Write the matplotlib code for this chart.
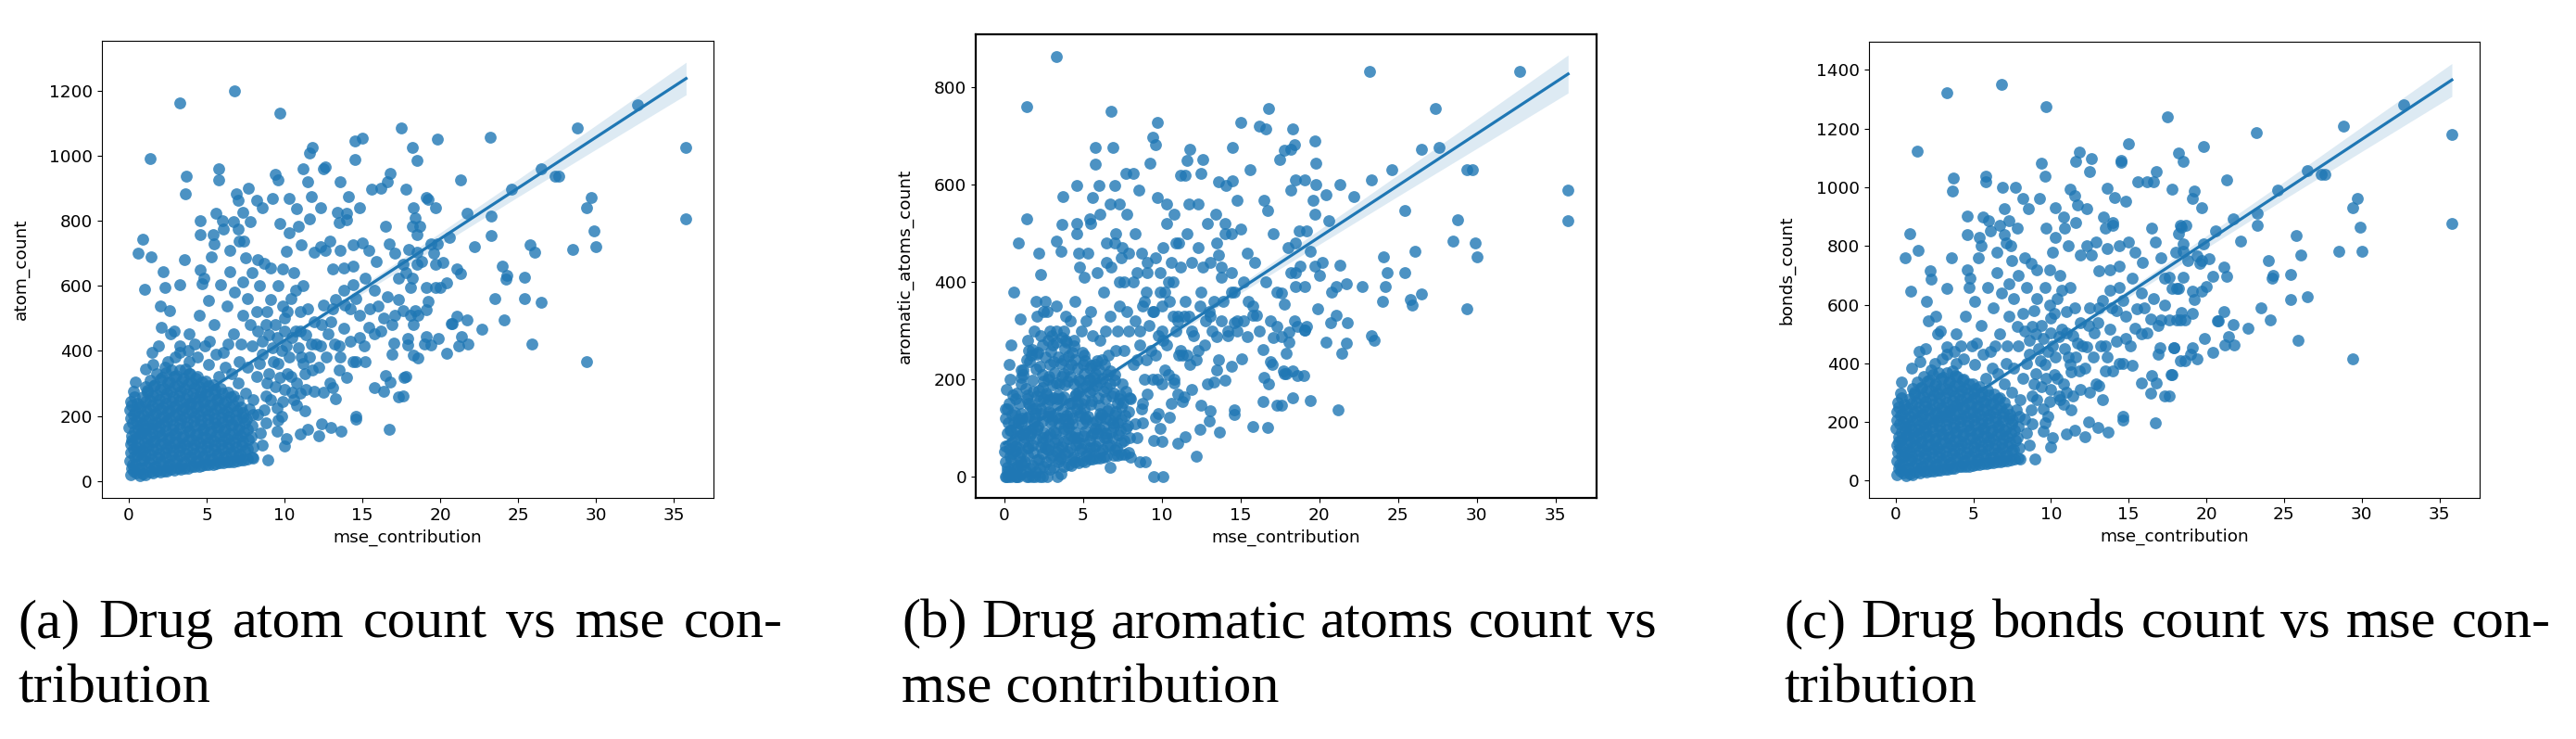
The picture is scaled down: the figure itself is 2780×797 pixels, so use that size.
import numpy as np
import matplotlib
matplotlib.use("Agg")
import matplotlib.pyplot as plt

# values; one row per drug, same order in every list
mse_contribution = [
    # far right
    35.8, 35.8, 32.7, 28.8, 29.4, 29.7, 29.9, 30.0, 28.5, 29.4,
    26.5, 27.4, 27.6, 25.8, 26.1, 25.4, 25.4, 26.5, 25.9, 24.6,
    23.2, 23.3, 23.3, 23.5, 24.0, 24.3, 24.2, 24.1, 22.7, 22.2,
    # 17 - 22
    21.7, 21.3, 21.1, 21.3, 21.4, 21.2, 21.8, 21.7, 20.7, 20.8,
    21.1, 20.6, 20.4, 20.4, 20.2, 20.0, 19.7, 19.8, 19.9, 19.8,
    19.6, 19.4, 19.7, 19.7, 19.1, 19.2, 18.3, 18.4, 18.2, 18.7,
    18.5, 18.5, 18.2, 17.5, 17.8, 18.5, 18.8, 18.5, 17.6, 17.8,
    18.2, 18.1, 19.1, 19.2, 19.1, 18.4, 18.1, 18.6, 18.3, 17.6,
    17.9, 17.9, 19.1, 19.0, 19.4, 18.3, 18.6, 17.8, 17.6, 17.7,
    17.3,
    # 12 - 17
    15.0, 14.5, 14.5, 16.8, 16.6, 16.2, 15.6, 14.1, 14.8, 13.6,
    12.6, 12.5, 12.3, 13.4, 14.0, 14.0, 13.5, 16.5, 12.3, 12.9,
    13.6, 14.4, 15.0, 15.4, 15.9, 16.7, 17.1, 18.0, 14.4, 12.6,
    13.1, 13.8, 14.4, 13.8, 13.3, 13.1, 14.2, 14.8, 15.4, 15.8,
    15.1, 14.4, 13.5, 12.8, 12.3, 16.6, 17.3, 17.1, 17.0, 16.9,
    17.3, 15.2, 15.8, 16.0, 16.4, 14.6, 14.6, 16.7, 13.65, 12.2,
    12.4, 13.0, 13.3, 15.8, 16.4, 16.5, 16.8, 14.6, 15.2, 14.0,
    13.1, 12.5, 11.9, 11.4,
    # 8 - 12
    9.7, 11.8, 11.6, 11.2, 9.4, 9.6, 11.5, 9.25, 8.2, 8.55,
    10.3, 10.8, 11.7, 11.6, 10.9, 9.7, 10.1, 10.3, 11.1, 11.9,
    9.9, 8.7, 8.3, 9.1, 11.9, 11.5, 10.7, 9.9, 9.1, 10.7,
    10.1, 9.3, 9.7, 11.5, 11.0, 10.1, 10.0, 9.5, 8.45, 8.6,
    8.95, 8.0, 8.3, 9.6, 11.3, 10.8, 9.9, 10.5, 8.8, 9.5,
    8.4, 8.9, 9.4, 10.0, 10.4, 11.0, 11.2, 10.6, 9.6, 8.6,
    9.0, 8.2, 10.2, 11.1, 11.7, 9.8, 8.4, 8.9, 11.3, 10.5,
    # 3 - 8, upper cloud
    6.8, 5.8, 5.8, 6.9, 7.7, 7.0, 4.6, 5.6, 6.0, 6.7,
    7.3, 7.8, 4.6, 5.4, 5.5, 6.1, 7.0, 7.1, 7.4, 6.5,
    5.3, 4.6, 4.7, 7.5, 4.8, 5.9, 6.5, 7.3, 5.1, 6.3,
    7.3, 4.5, 5.5, 6.7, 3.9, 4.9, 6.1, 3.3, 2.9, 3.9,
    5.1, 7.1, 7.9, 8.3, 7.6, 6.8, 7.9,
    # 0 - 4, upper
    3.3, 1.4, 3.7, 3.65, 0.9, 0.6, 1.45, 3.6, 2.2, 1.0,
    2.3, 3.3, 2.0, 2.6, 0.4, 1.05, 1.55, 1.9, 1.5, 2.1,
    2.7, 2.5, 3.3,
    # dense block near the origin
    0.1, 0.2, 0.05, 0.15, 0.1, 0.2, 0.0, 0.1, 0.05, 0.15,
    0.5, 0.45, 0.55, 0.5, 0.4, 0.6, 0.5, 0.45, 0.55, 0.3,
    0.9, 0.85, 0.95, 0.9, 1.0, 0.85, 0.9, 0.95, 0.8, 0.9, 1.1,
    1.35, 1.3, 1.4, 1.25, 1.35, 1.45, 1.3, 1.4, 1.35, 1.2, 1.4,
    1.8, 1.75, 1.85, 1.8, 1.7, 1.9, 1.8, 1.75, 1.85, 1.8, 1.7, 1.8,
    2.25, 2.2, 2.3, 2.25, 2.15, 2.35, 2.25, 2.2, 2.3, 2.25, 2.15, 2.3,
    2.7, 2.65, 2.75, 2.7, 2.6, 2.8, 2.7, 2.65, 2.75, 2.7, 2.6, 2.75,
    3.15, 3.1, 3.2, 3.15, 3.05, 3.25, 3.15, 3.1, 3.2, 3.15, 3.05,
    3.6, 3.55, 3.65, 3.6, 3.5, 3.7, 3.6, 3.55, 3.65, 3.6, 3.5, 3.65,
    4.05, 4.0, 4.1, 4.05, 3.95, 4.15, 4.05, 4.0, 4.1, 4.05, 3.95,
    4.5, 4.45, 4.55, 4.5, 4.4, 4.6, 4.5, 4.45, 4.55, 4.5, 4.4,
    4.95, 4.9, 5.0, 4.95, 4.85, 5.05, 4.95, 4.9, 5.0, 4.95,
    5.4, 5.35, 5.45, 5.4, 5.3, 5.5, 5.4, 5.35, 5.45, 5.4,
    5.85, 5.8, 5.9, 5.85, 5.75, 5.95, 5.85, 5.8, 5.9,
    6.3, 6.25, 6.35, 6.3, 6.2, 6.4, 6.3, 6.25, 6.35,
    6.75, 6.7, 6.8, 6.75, 6.65, 6.85, 6.75, 6.7,
    7.2, 7.15, 7.25, 7.2, 7.1, 7.3, 7.2,
    7.65, 7.6, 7.7, 7.65, 7.55, 7.75,
    0.3, 0.25, 0.35, 0.3, 0.2, 0.35, 0.25, 0.3, 0.2, 0.35,
    0.7, 0.65, 0.75, 0.7, 0.65, 0.75, 0.7, 0.65, 0.7,
    1.1, 1.15, 1.05, 1.1, 1.15, 1.05, 1.1, 1.15, 1.05, 1.2,
    1.55, 1.6, 1.5, 1.55, 1.6, 1.5, 1.55, 1.6, 1.5, 1.55, 1.6,
    2.0, 2.05, 1.95, 2.0, 2.05, 1.95, 2.0, 2.05, 1.95, 2.0, 2.05,
    2.45, 2.5, 2.4, 2.45, 2.5, 2.4, 2.45, 2.5, 2.4, 2.45, 2.5, 2.4,
    2.9, 2.95, 2.85, 2.9, 2.95, 2.85, 2.9, 2.95, 2.85, 2.9, 2.95,
    3.35, 3.4, 3.3, 3.35, 3.4, 3.3, 3.35, 3.4, 3.3, 3.35, 3.4, 3.3,
    3.8, 3.85, 3.75, 3.8, 3.85, 3.75, 3.8, 3.85, 3.75, 3.8, 3.85,
    4.25, 4.3, 4.2, 4.25, 4.3, 4.2, 4.25, 4.3, 4.2, 4.25, 4.3,
    4.7, 4.75, 4.65, 4.7, 4.75, 4.65, 4.7, 4.75, 4.65, 4.7,
    5.15, 5.2, 5.1, 5.15, 5.2, 5.1, 5.15, 5.2, 5.1, 5.15,
    5.6, 5.65, 5.55, 5.6, 5.65, 5.55, 5.6, 5.65, 5.55,
    6.05, 6.1, 6.0, 6.05, 6.1, 6.0, 6.05, 6.1, 6.0,
    6.5, 6.55, 6.45, 6.5, 6.55, 6.45, 6.5, 6.55,
    6.95, 7.0, 6.9, 6.95, 7.0, 6.9, 6.95, 7.0,
    7.4, 7.45, 7.35, 7.4, 7.45, 7.35,
    7.9, 7.95, 7.85, 7.9, 7.95,
    # diagonal band between the block and the cloud
    7.0, 7.5, 8.0, 8.2, 7.6, 7.2, 8.6, 6.6, 6.2, 5.6,
    5.8, 4.4, 4.2, 3.0, 3.8, 8.7, 9.1, 9.4, 9.0, 9.6,
    9.2, 8.8, 9.8, 10.0, 10.3, 9.5, 10.0, 10.4, 10.8, 11.2,
    11.6, 10.9, 11.4, 12.0, 11.8, 10.6, 11.0, 12.2, 12.7, 13.2,
    13.6, 12.4, 13.0, 13.8, 12.9, 13.5, 14.2, 14.8, 15.5, 16.2,
    14.6, 16.9, 6.4, 5.2, 7.8, 8.8, 10.2, 11.0, 12.5, 13.9,
]

atom_count = [
    1024, 805, 1155, 1085, 840, 870, 768, 720, 713, 368,
    960, 936, 936, 726, 704, 625, 560, 550, 421, 898,
    1057, 815, 754, 560, 659, 632, 621, 495, 468, 720,
    824, 925, 651, 637, 444, 414, 421, 495, 485, 485,
    507, 750, 609, 392, 672, 594, 596, 1050, 438, 729,
    699, 729, 666, 840, 870, 865, 840, 810, 783, 783,
    756, 986, 1024, 1085, 896, 704, 675, 666, 666, 640,
    623, 596, 596, 552, 526, 523, 509, 509, 480, 523,
    438, 419, 443, 421, 419, 386, 378, 321, 262, 319,
    260,
    1055, 1044, 989, 945, 919, 900, 898, 874, 840, 919,
    965, 960, 841, 826, 822, 803, 794, 784, 720, 737,
    708, 727, 732, 708, 675, 729, 699, 713, 661, 708,
    651, 656, 604, 585, 557, 528, 528, 509, 471, 452,
    414, 367, 414, 452, 414, 566, 557, 509, 424, 390,
    623, 623, 585, 538, 500, 200, 191, 160, 153, 139,
    177, 165, 253, 286, 276, 324, 305, 367, 367, 319,
    288, 272, 276, 281,
    1131, 1025, 1008, 960, 943, 925, 920, 868, 864, 841,
    868, 838, 875, 805, 784, 791, 706, 763, 727, 704,
    651, 670, 680, 656, 490, 528, 585, 538, 557, 462,
    414, 367, 319, 158, 145, 131, 108, 153, 148, 110,
    66, 70, 205, 186, 215, 234, 243, 272, 262, 224,
    600, 520, 480, 500, 560, 520, 600, 640, 600, 430,
    450, 520, 330, 380, 420, 400, 360, 300, 330, 440,
    1200, 960, 924, 884, 900, 863, 800, 824, 800, 798,
    827, 797, 756, 756, 728, 775, 775, 737, 737, 708,
    688, 650, 607, 685, 623, 604, 642, 613, 556, 537,
    509, 509, 480, 452, 452, 414, 395, 414, 461, 367,
    357, 367, 414, 461, 560, 580, 640,
    1161, 990, 936, 884, 744, 701, 689, 680, 644, 590,
    596, 602, 539, 523, 305, 343, 357, 414, 395, 471,
    452, 367, 395,
    18, 40, 62, 88, 112, 138, 165, 192, 218, 245,
    25, 52, 78, 104, 130, 158, 185, 212, 240, 275,
    22, 38, 65, 92, 120, 148, 175, 202, 230, 258, 290,
    28, 55, 82, 108, 135, 162, 190, 218, 248, 278, 310,
    30, 45, 72, 98, 125, 152, 180, 208, 236, 265, 295, 330,
    32, 60, 88, 115, 142, 170, 198, 226, 255, 285, 318, 350,
    35, 50, 78, 105, 132, 160, 188, 216, 245, 275, 305, 340,
    38, 65, 92, 120, 148, 176, 204, 232, 262, 292, 325,
    40, 58, 85, 112, 140, 168, 196, 224, 254, 284, 315, 345,
    44, 72, 100, 128, 156, 184, 212, 240, 270, 300, 330,
    46, 62, 90, 118, 146, 174, 202, 230, 260, 290, 320,
    50, 78, 106, 134, 162, 190, 218, 246, 276, 306,
    52, 68, 96, 124, 152, 180, 208, 236, 266, 296,
    55, 84, 112, 140, 168, 196, 224, 254, 284,
    58, 75, 102, 130, 158, 186, 214, 244, 274,
    60, 90, 118, 146, 174, 202, 232, 262,
    64, 82, 110, 138, 166, 196, 226,
    68, 98, 128, 158, 190, 222,
    30, 52, 76, 100, 125, 152, 178, 205, 232, 260,
    15, 38, 65, 90, 117, 144, 170, 198, 226,
    20, 45, 78, 106, 134, 161, 188, 215, 244, 272,
    25, 42, 68, 95, 122, 149, 176, 204, 232, 262, 292,
    28, 58, 86, 112, 138, 166, 194, 222, 250, 280, 312,
    30, 46, 74, 101, 128, 156, 184, 212, 240, 270, 300, 334,
    34, 64, 92, 118, 146, 174, 202, 230, 260, 290, 322,
    36, 52, 78, 106, 134, 162, 190, 218, 247, 277, 308, 340,
    40, 72, 98, 126, 154, 182, 210, 238, 268, 298, 330,
    44, 58, 86, 114, 142, 170, 198, 226, 256, 286, 316,
    47, 76, 104, 132, 160, 188, 216, 245, 275, 305,
    50, 64, 92, 120, 148, 176, 204, 232, 262, 292,
    54, 82, 110, 138, 166, 194, 222, 250, 280,
    56, 70, 98, 126, 154, 182, 210, 240, 270,
    60, 88, 116, 144, 172, 200, 228, 258,
    62, 76, 104, 132, 160, 188, 216, 246,
    66, 94, 122, 150, 180, 210,
    72, 104, 136, 170, 204,
    300, 270, 250, 320, 350, 420, 390, 330, 350, 390,
    320, 380, 420, 380, 400, 220, 250, 290, 330, 360,
    410, 180, 200, 280, 380, 440, 460, 320, 300, 360,
    380, 410, 450, 420, 340, 250, 270, 350, 380, 420,
    380, 480, 490, 470, 300, 340, 430, 440, 530, 460,
    560, 480, 420, 430, 480, 480, 520, 460, 540, 540,
]

aromatic_atoms_count = [
    589, 525, 832, 527, 630, 630, 481, 451, 484, 345,
    672, 756, 676, 364, 463, 547, 420, 376, 352, 630,
    832, 609, 289, 281, 361, 420, 390, 451, 390, 576,
    396, 600, 390, 435, 253, 138, 316, 274, 316, 379,
    331, 525, 580, 276, 441, 414, 540, 600, 345, 644,
    568, 463, 433, 690, 609, 505, 714, 682, 589, 505,
    481, 609, 673, 651, 671, 420, 433, 390, 377, 354,
    420, 297, 390, 309, 302, 320, 276, 309, 217, 287,
    253, 211, 302, 208, 157, 163, 208, 211, 146, 217,
    146,
    728, 676, 608, 756, 714, 720, 630, 598, 568, 606,
    651, 622, 560, 540, 520, 500, 480, 568, 470, 520,
    455, 500, 508, 460, 440, 547, 500, 470, 420, 430,
    440, 410, 380, 430, 360, 330, 300, 320, 287, 331,
    243, 227, 287, 320, 260, 400, 309, 285, 230, 237,
    380, 400, 350, 331, 262, 128, 138, 101, 91, 43,
    97, 114, 195, 103, 155, 204, 190, 317, 320, 199,
    135, 146, 180, 164,
    728, 672, 649, 620, 697, 682, 620, 644, 623, 588,
    560, 540, 560, 500, 480, 573, 470, 520, 480, 440,
    420, 460, 500, 440, 300, 360, 400, 380, 420, 330,
    280, 260, 200, 83, 68, 1, 73, 1, 81, 31,
    31, 40, 109, 122, 154, 192, 100, 123, 150, 74,
    420, 360, 340, 300, 400, 330, 430, 440, 450, 300,
    380, 400, 220, 250, 330, 290, 240, 200, 250, 360,
    750, 676, 641, 676, 623, 599, 598, 573, 598, 560,
    560, 540, 500, 530, 520, 540, 480, 500, 450, 480,
    460, 520, 460, 470, 430, 420, 440, 400, 410, 380,
    350, 360, 340, 330, 330, 300, 280, 350, 300, 280,
    250, 260, 300, 320, 400, 430, 460,
    863, 759, 576, 519, 481, 380, 530, 463, 460, 324,
    415, 484, 360, 360, 271, 220, 260, 300, 280, 330,
    340, 340, 300,
    0, 12, 30, 0, 64, 90, 52, 140, 121, 180,
    6, 0, 48, 70, 35, 110, 128, 96, 168, 230,
    0, 18, 40, 60, 86, 24, 118, 150, 172, 110, 205,
    12, 30, 0, 72, 96, 120, 80, 160, 182, 210, 240,
    0, 24, 50, 66, 90, 112, 140, 100, 176, 198, 250, 262,
    18, 36, 62, 0, 104, 130, 156, 178, 140, 226, 256, 290,
    0, 30, 56, 82, 60, 124, 150, 172, 200, 168, 245, 280,
    20, 44, 70, 94, 116, 90, 162, 188, 214, 236, 270,
    6, 36, 62, 40, 108, 134, 160, 120, 206, 232, 190, 286,
    26, 52, 78, 102, 126, 150, 110, 196, 222, 248, 276,
    30, 40, 66, 92, 80, 140, 166, 190, 170, 240, 268,
    32, 58, 84, 108, 132, 158, 182, 150, 230, 256,
    36, 48, 74, 60, 124, 148, 174, 198, 224, 200,
    38, 64, 90, 114, 100, 162, 186, 212, 238,
    40, 56, 80, 104, 128, 120, 176, 202, 230,
    20, 66, 92, 116, 140, 166, 190, 218,
    44, 60, 86, 110, 134, 160, 150,
    46, 74, 100, 126, 152, 176,
    10, 0, 42, 58, 20, 96, 110, 150, 140, 200,
    0, 20, 0, 54, 76, 100, 64, 132, 160,
    6, 26, 50, 30, 88, 108, 130, 120, 190, 220,
    0, 18, 44, 62, 84, 60, 124, 146, 168, 150, 236,
    10, 34, 0, 78, 98, 120, 142, 166, 130, 222, 252,
    0, 22, 48, 70, 92, 114, 80, 160, 184, 210, 196, 270,
    16, 40, 66, 88, 110, 134, 158, 130, 206, 230, 258,
    0, 30, 52, 76, 60, 122, 146, 168, 192, 160, 246, 276,
    22, 48, 72, 96, 118, 100, 164, 188, 212, 240, 264,
    24, 36, 60, 84, 108, 132, 150, 120, 206, 230, 256,
    28, 54, 80, 70, 126, 150, 174, 196, 224, 200,
    30, 44, 68, 94, 116, 140, 120, 186, 212, 238,
    36, 60, 86, 110, 90, 156, 180, 204, 228,
    38, 50, 72, 98, 122, 146, 130, 194, 220,
    42, 64, 90, 80, 136, 160, 184, 210,
    44, 56, 80, 104, 126, 110, 172, 198,
    46, 70, 96, 118, 144, 168,
    50, 80, 106, 134, 162,
    210, 190, 160, 230, 260, 300, 270, 250, 240, 290,
    230, 280, 320, 290, 300, 140, 170, 200, 240, 250,
    310, 110, 130, 190, 270, 340, 350, 210, 200, 260,
    250, 300, 330, 290, 230, 150, 170, 240, 270, 300,
    240, 350, 340, 320, 190, 220, 290, 300, 360, 300,
    380, 320, 300, 320, 340, 350, 380, 320, 380, 360,
]

bonds_count = [
    1179, 876, 1282, 1210, 931, 961, 864, 782, 782, 415,
    1057, 1043, 1043, 836, 770, 702, 617, 626, 477, 992,
    1185, 913, 871, 590, 750, 700, 690, 547, 520, 818,
    893, 1025, 728, 697, 491, 462, 462, 533, 544, 544,
    575, 853, 697, 437, 758, 661, 646, 1140, 485, 807,
    742, 766, 749, 931, 961, 987, 871, 863, 842, 871,
    807, 1088, 1118, 1241, 993, 782, 749, 694, 694, 654,
    654, 654, 646, 618, 569, 572, 548, 547, 548, 547,
    454, 454, 454, 431, 415, 409, 409, 361, 288, 361,
    288,
    1148, 1093, 1085, 1054, 1020, 1020, 1020, 964, 954, 997,
    1099, 1054, 927, 900, 880, 870, 860, 860, 800, 812,
    790, 800, 812, 780, 745, 812, 760, 780, 730, 770,
    715, 720, 660, 650, 615, 590, 580, 560, 520, 500,
    460, 400, 460, 505, 455, 620, 600, 547, 454, 430,
    690, 690, 640, 590, 550, 219, 205, 197, 164, 150,
    200, 182, 275, 332, 299, 358, 334, 400, 392, 375,
    324, 300, 311, 290,
    1276, 1119, 1088, 995, 1083, 1038, 972, 962, 962, 927,
    931, 900, 940, 880, 860, 860, 780, 830, 800, 770,
    720, 740, 760, 720, 540, 590, 650, 600, 620, 515,
    460, 410, 350, 173, 160, 147, 115, 170, 161, 121,
    73, 75, 211, 197, 240, 260, 270, 290, 290, 245,
    660, 580, 530, 555, 620, 575, 660, 700, 660, 480,
    500, 570, 360, 420, 470, 440, 400, 330, 370, 490,
    1350, 1038, 1020, 1001, 1001, 927, 901, 900, 886, 870,
    886, 860, 840, 830, 800, 850, 840, 810, 800, 780,
    760, 720, 660, 750, 690, 660, 710, 670, 610, 590,
    560, 560, 530, 500, 500, 460, 440, 455, 510, 400,
    395, 400, 460, 510, 620, 640, 700,
    1323, 1123, 1033, 988, 842, 761, 784, 761, 716, 646,
    686, 657, 612, 560, 335, 384, 407, 449, 440, 544,
    500, 400, 430,
    19, 43, 67, 95, 121, 150, 178, 208, 236, 266,
    27, 56, 84, 112, 141, 171, 200, 229, 260, 298,
    23, 41, 70, 99, 130, 160, 189, 218, 248, 279, 314,
    30, 59, 88, 117, 146, 175, 205, 236, 268, 300, 335,
    32, 48, 78, 106, 135, 164, 194, 225, 255, 286, 318, 356,
    34, 65, 95, 124, 153, 184, 214, 244, 275, 308, 343, 378,
    37, 54, 84, 113, 143, 173, 203, 233, 265, 297, 330, 367,
    40, 70, 99, 130, 160, 190, 220, 251, 283, 315, 351,
    42, 62, 92, 121, 151, 181, 212, 242, 274, 307, 340, 373,
    47, 77, 108, 138, 168, 199, 229, 259, 292, 324, 356,
    49, 66, 97, 127, 158, 188, 218, 248, 281, 313, 346,
    53, 84, 114, 145, 175, 205, 235, 266, 298, 330,
    56, 73, 104, 134, 164, 194, 225, 255, 287, 320,
    59, 91, 121, 151, 181, 212, 242, 274, 307,
    62, 81, 110, 140, 171, 201, 231, 264, 296,
    65, 97, 127, 158, 188, 218, 251, 283,
    69, 88, 119, 149, 179, 212, 244,
    73, 106, 138, 171, 205, 240,
    32, 56, 82, 108, 135, 164, 193, 222, 251, 282,
    16, 40, 70, 97, 126, 156, 184, 214, 245,
    21, 48, 84, 115, 145, 174, 203, 233, 264, 294,
    27, 45, 73, 103, 132, 161, 190, 221, 251, 283, 316,
    30, 62, 93, 121, 149, 180, 210, 240, 270, 303, 338,
    32, 50, 80, 109, 138, 169, 199, 229, 260, 292, 325, 361,
    36, 69, 99, 127, 158, 188, 218, 249, 281, 314, 348,
    38, 56, 84, 114, 145, 175, 205, 236, 267, 300, 333, 368,
    43, 78, 106, 136, 166, 197, 227, 257, 290, 322, 357,
    47, 62, 93, 123, 153, 184, 214, 244, 277, 309, 341,
    50, 82, 112, 143, 173, 203, 233, 265, 297, 330,
    54, 69, 99, 130, 160, 190, 220, 251, 283, 315,
    58, 89, 119, 149, 179, 210, 240, 270, 302,
    60, 76, 106, 136, 166, 197, 227, 259, 292,
    65, 95, 125, 156, 186, 216, 246, 279,
    67, 82, 112, 143, 173, 203, 233, 266,
    71, 102, 132, 162, 194, 227,
    78, 112, 147, 184, 220,
    330, 300, 275, 350, 385, 460, 430, 365, 385, 430,
    350, 415, 460, 415, 440, 240, 275, 320, 365, 395,
    450, 195, 220, 310, 420, 485, 505, 350, 330, 395,
    420, 450, 495, 460, 375, 275, 300, 385, 420, 460,
    420, 530, 540, 515, 330, 375, 475, 485, 585, 505,
    615, 530, 460, 470, 525, 525, 570, 505, 590, 590,
]

# fitted line and its confidence band
fit_x = [0.0, 35.8]
fit_atom = [120, 1237]
fit_arom = [68, 827]
fit_bonds = [115, 1366]
band_x = [0, 5, 10, 15, 20, 25, 30, 35.8]
band_atom_lo = [110, 269, 425, 576, 725, 873, 1019, 1187]
band_atom_hi = [130, 283, 439, 600, 763, 927, 1093, 1287]
band_arom_lo = [61, 169, 275, 377, 477, 576, 674, 788]
band_arom_hi = [75, 179, 285, 395, 507, 620, 734, 866]
band_bonds_lo = [104, 282, 457, 626, 793, 959, 1122, 1310]
band_bonds_hi = [126, 298, 473, 652, 835, 1019, 1206, 1422]

y_labels = ["atom_count", "aromatic_atoms_count", "bonds_count"]
captions = [
    ["(a) Drug atom count vs mse con-", "tribution"],
    ["(b) Drug aromatic atoms count vs", "mse contribution"],
    ["(c) Drug bonds count vs mse con-", "tribution"],
]

n = len(mse_contribution)
assert len(atom_count) == n and len(aromatic_atoms_count) == n and len(bonds_count) == n

W, H = 2780, 797
fig = plt.figure(figsize=(W / 100, H / 100), dpi=100)

# axes boxes in pixels: left, right, top, bottom
boxes = [(109.7, 770.0, 44.3, 537.0),
         (1053.0, 1722.7, 36.7, 537.3),
         (2016.7, 2676.2, 45.4, 536.7)]
ylims = [(-52, 1352), (-44, 909), (-58, 1495)]
xlims = [(-1.74, 37.56), (-1.81, 37.59), (-1.73, 37.6)]
yticks = [np.arange(0, 1201, 200), np.arange(0, 801, 200), np.arange(0, 1401, 200)]
spine_w = [0.8, 1.6, 0.8]
ylab_x = [31.6, 986.0, 1937.6]
cap_x = [(19, 845), (973, 1788), (1925, 2753)]

series = [atom_count, aromatic_atoms_count, bonds_count]
fits = [fit_atom, fit_arom, fit_bonds]
bands = [(band_atom_lo, band_atom_hi), (band_arom_lo, band_arom_hi),
         (band_bonds_lo, band_bonds_hi)]
blue = "#1f77b4"
cap_style = dict(fontsize=43.5, family="Liberation Serif", ha="left", va="baseline")


def caption_line(text, x0, x1, y, justify):
    if not justify:
        fig.text(x0 / W, 1 - y / H, text, **cap_style)
        return
    words = text.split(" ")
    items = [fig.text(0, 1 - y / H, w, **cap_style) for w in words]
    r = fig.canvas.get_renderer()
    widths = [t.get_window_extent(renderer=r).width for t in items]
    gap = (x1 - x0 - sum(widths)) / (len(words) - 1)
    pos = x0
    for t, w in zip(items, widths):
        t.set_x(pos / W)
        pos += w + gap


for i in range(3):
    l, r, t, b = boxes[i]
    ax = fig.add_axes([l / W, 1 - b / H, (r - l) / W, (b - t) / H])
    ax.scatter(mse_contribution, series[i], s=85, color=blue, alpha=0.8, linewidths=0)
    ax.fill_between(band_x, bands[i][0], bands[i][1], color=blue, alpha=0.15, linewidth=0)
    ax.plot(fit_x, fits[i], color=blue, lw=2.3)
    ax.set_xlim(*xlims[i])
    ax.set_ylim(*ylims[i])
    ax.set_xticks(np.arange(0, 36, 5))
    ax.set_yticks(yticks[i])
    ax.tick_params(labelsize=13.3)
    ax.set_xlabel("mse_contribution", fontsize=13.3)
    ax.set_ylabel(y_labels[i], fontsize=13.3)
    ax.yaxis.set_label_coords((ylab_x[i] - l) / (r - l), 0.5)
    for s in ax.spines.values():
        s.set_linewidth(spine_w[i])

    caption_line(captions[i][0], cap_x[i][0], cap_x[i][1], 687, True)
    caption_line(captions[i][1], cap_x[i][0], cap_x[i][1], 757, False)

fig.savefig("out.png", dpi=100)
